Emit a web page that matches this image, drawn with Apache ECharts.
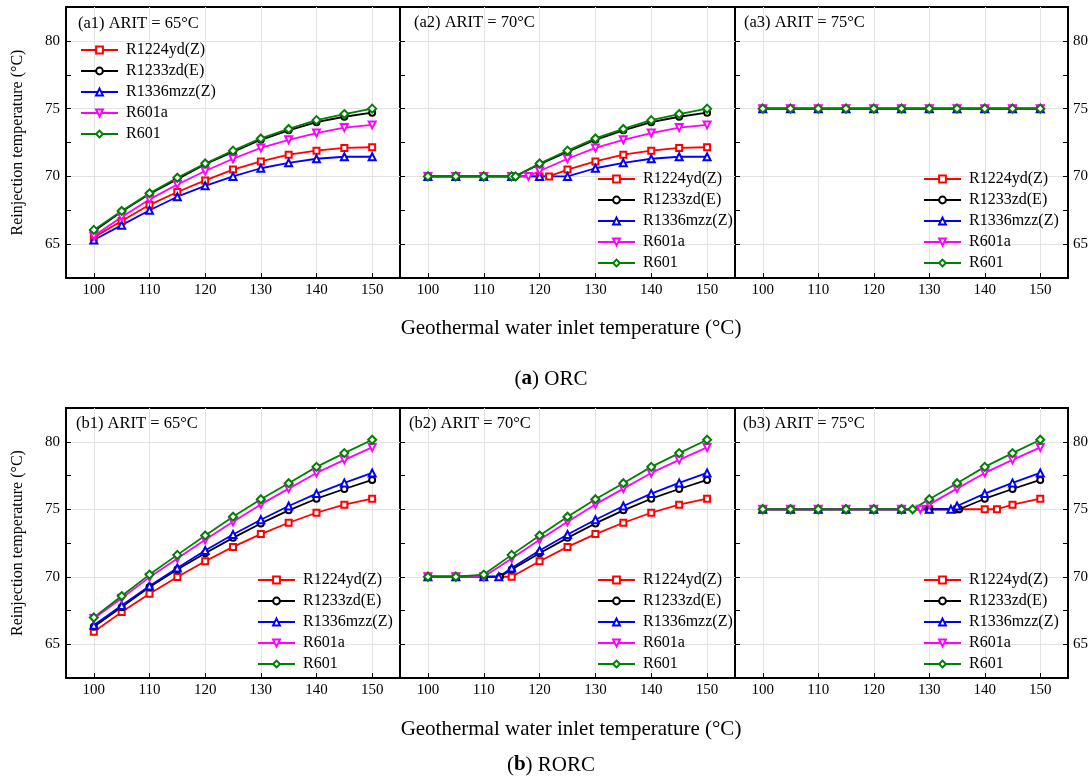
<!DOCTYPE html>
<html>
<head>
<meta charset="utf-8">
<script src="https://cdn.jsdelivr.net/npm/echarts@6/dist/echarts.min.js"></script>
<style>
  html, body { margin: 0; padding: 0; background: #fff; }
  #main { width: 1092px; height: 778px; }
</style>
</head>
<body>
<div id="main"></div>
<script>
// geothermal water inlet temperature (°C)
const inletTemp = [100, 105, 110, 115, 120, 125, 130, 135, 140, 145, 150];
const fluids = ['R1224yd(Z)', 'R1233zd(E)', 'R1336mzz(Z)', 'R601a', 'R601'];

// reinjection temperature, one row per fluid (same order as fluids)
const orc65 = [
  [65.5, 66.7, 67.9, 68.85, 69.7, 70.5, 71.1, 71.6, 71.9, 72.1, 72.15],
  [65.95, 67.4, 68.7, 69.8, 70.9, 71.8, 72.7, 73.4, 74.0, 74.4, 74.7],
  [65.3, 66.4, 67.5, 68.5, 69.3, 70.0, 70.6, 71.0, 71.3, 71.45, 71.45],
  [65.6, 67.0, 68.3, 69.4, 70.4, 71.3, 72.1, 72.7, 73.2, 73.6, 73.8],
  [66.05, 67.45, 68.75, 69.9, 70.95, 71.9, 72.8, 73.5, 74.15, 74.6, 75.0]
];
const orc70 = [
  [70, 70, 70, 70, 70, 70.5, 71.1, 71.6, 71.9, 72.1, 72.15],
  [70, 70, 70, 70, 70.9, 71.8, 72.7, 73.4, 74.0, 74.4, 74.7],
  [70, 70, 70, 70, 70, 70, 70.6, 71.0, 71.3, 71.45, 71.45],
  [70, 70, 70, 70, 70.4, 71.3, 72.1, 72.7, 73.2, 73.6, 73.8],
  [70, 70, 70, 70, 70.95, 71.9, 72.8, 73.5, 74.15, 74.6, 75.0]
];
const orc70Breaks = [[121.7, 70], [115.6, 70], null, [118, 70], [115.7, 70]];
const orc75 = [
  [75, 75, 75, 75, 75, 75, 75, 75, 75, 75, 75],
  [75, 75, 75, 75, 75, 75, 75, 75, 75, 75, 75],
  [75, 75, 75, 75, 75, 75, 75, 75, 75, 75, 75],
  [75, 75, 75, 75, 75, 75, 75, 75, 75, 75, 75],
  [75, 75, 75, 75, 75, 75, 75, 75, 75, 75, 75]
];
const rorc65 = [
  [65.92, 67.38, 68.74, 69.98, 71.15, 72.21, 73.16, 74.0, 74.74, 75.34, 75.78],
  [66.3, 67.75, 69.24, 70.53, 71.74, 72.88, 73.95, 74.92, 75.78, 76.5, 77.17],
  [66.4, 67.87, 69.31, 70.65, 71.94, 73.13, 74.22, 75.24, 76.16, 76.95, 77.69],
  [66.9, 68.4, 69.97, 71.35, 72.74, 74.07, 75.36, 76.53, 77.69, 78.66, 79.58],
  [66.98, 68.57, 70.16, 71.62, 73.06, 74.45, 75.74, 76.93, 78.14, 79.16, 80.15]
];
const rorc70 = [
  [70, 70, 70, 70, 71.15, 72.21, 73.16, 74.0, 74.74, 75.34, 75.78],
  [70, 70, 70, 70.53, 71.74, 72.88, 73.95, 74.92, 75.78, 76.5, 77.17],
  [70, 70, 70, 70.65, 71.94, 73.13, 74.22, 75.24, 76.16, 76.95, 77.69],
  [70, 70, 70, 71.35, 72.74, 74.07, 75.36, 76.53, 77.69, 78.66, 79.58],
  [70, 70, 70.16, 71.62, 73.06, 74.45, 75.74, 76.93, 78.14, 79.16, 80.15]
];
const rorc70Breaks = [null, [112.9, 70], [112.7, 70], null, null];
const rorc75 = [
  [75, 75, 75, 75, 75, 75, 75, 75, 75, 75.34, 75.78],
  [75, 75, 75, 75, 75, 75, 75, 75, 75.78, 76.5, 77.17],
  [75, 75, 75, 75, 75, 75, 75, 75.24, 76.16, 76.95, 77.69],
  [75, 75, 75, 75, 75, 75, 75.36, 76.53, 77.69, 78.66, 79.58],
  [75, 75, 75, 75, 75, 75, 75.74, 76.93, 78.14, 79.16, 80.15]
];
const rorc75Breaks = [[142.2, 75], [135.4, 75], [133.9, 75], [128.4, 75], [127, 75]];

const panelValues = [orc65, orc70, orc75, rorc65, rorc70, rorc75];
const panelBreaks = [null, orc70Breaks, null, null, rorc70Breaks, rorc75Breaks];
const panelLabels = ['(a1) ARIT = 65°C', '(a2) ARIT = 70°C', '(a3) ARIT = 75°C',
                     '(b1) ARIT = 65°C', '(b2) ARIT = 70°C', '(b3) ARIT = 75°C'];

const FONT = '"Liberation Serif", "Times New Roman", serif';
const colors = ['#ff0000', '#000000', '#0000ff', '#ff00ff', '#008000'];
const symbols = ['emptyRect', 'emptyCircle', 'emptyTriangle', 'emptyTriangle', 'emptyDiamond'];
const symbolRot = [0, 0, 0, 180, 0];
const symbolSizes = [6, 6, 7, 7, 8];

const gridLefts = [66, 400, 735];
const gridWidths = [334, 335, 333];
const rowTops = [7, 408];
const rowHeights = [271, 270];
const labelPos = [[78, 24], [414, 23], [744, 23], [76, 424], [409, 424], [743, 424]];
const legendPos = [[80, 42], [597, 171], [923, 171], [257, 572], [597, 572], [923, 572]];

function buildData(ys, brk) {
  const pts = inletTemp.map((x, i) => [x, ys[i]]);
  if (brk) {
    pts.push(brk);
    pts.sort((a, b) => a[0] - b[0]);
  }
  return pts;
}

const chart = echarts.init(document.getElementById('main'));

const grid = [], xAxis = [], yAxis = [], series = [], legend = [], graphic = [];

for (let p = 0; p < 6; p++) {
  const row = Math.floor(p / 3), col = p % 3;
  grid.push({
    left: gridLefts[col], top: rowTops[row], width: gridWidths[col], height: rowHeights[row],
    show: true, borderColor: '#000', borderWidth: 2, backgroundColor: 'transparent'
  });
  xAxis.push({
    type: 'value', gridIndex: p, min: 95, max: 155, splitNumber: 6,
    axisLine: { show: false },
    axisTick: { show: true, inside: true, length: 5, lineStyle: { color: '#000' } },
    axisLabel: { showMinLabel: false, showMaxLabel: false, fontFamily: FONT, fontSize: 15, color: '#000', margin: 5 },
    splitLine: { show: true, showMinLine: false, showMaxLine: false, lineStyle: { color: '#e3e3e3', width: 1 } }
  });
  const leftIdx = yAxis.length;
  yAxis.push({
    type: 'value', gridIndex: p, position: 'left', min: 62.5, max: 82.5, interval: 2.5,
    axisLine: { show: false },
    axisTick: { show: true, inside: true, length: 5, lineStyle: { color: '#000' } },
    axisLabel: {
      show: col === 0, fontFamily: FONT, fontSize: 15, color: '#000', margin: 6,
      formatter: v => (v % 5 === 0 && v > 62.5 && v < 82.5) ? String(v) : ''
    },
    splitLine: { show: false }
  });
  yAxis.push({
    type: 'value', gridIndex: p, position: 'right', min: 62.5, max: 82.5, splitNumber: 4,
    axisLine: { show: false }, axisTick: { show: false }, axisLabel: { show: false },
    splitLine: { show: true, showMinLine: false, showMaxLine: false, lineStyle: { color: '#e3e3e3', width: 1 } }
  });
  if (col === 2) {
    yAxis.push({
      type: 'value', gridIndex: p, position: 'right', min: 62.5, max: 82.5, interval: 2.5,
      axisLine: { show: false },
      axisTick: { show: true, inside: true, length: 5, lineStyle: { color: '#000' } },
      axisLabel: {
        fontFamily: FONT, fontSize: 15, color: '#000', margin: 5,
        formatter: v => (v % 5 === 0 && v > 62.5 && v < 82.5) ? String(v) : ''
      },
      splitLine: { show: false }
    });
  }
  fluids.forEach((name, s) => {
    const brk = panelBreaks[p] ? panelBreaks[p][s] : null;
    series.push({
      name: name, type: 'line', xAxisIndex: p, yAxisIndex: leftIdx,
      data: buildData(panelValues[p][s], brk),
      symbol: symbols[s], symbolRotate: symbolRot[s], symbolSize: symbolSizes[s],
      showAllSymbol: true, animation: false,
      lineStyle: { color: colors[s], width: 1.8 },
      itemStyle: { color: colors[s], borderWidth: 1.3 }
    });
  });
  legend.push({
    data: fluids, orient: 'vertical', left: legendPos[p][0], top: legendPos[p][1],
    padding: 0, itemWidth: 37, itemHeight: 8.5, itemGap: 5, selectedMode: false,
    lineStyle: { width: 2 },
    textStyle: { fontFamily: FONT, fontSize: 16, color: '#000', padding: [0, 0, 0, 3] }
  });
  graphic.push({
    type: 'text', x: labelPos[p][0], y: labelPos[p][1], z: 10,
    style: { text: panelLabels[p], font: '16.5px ' + FONT, fill: '#000', verticalAlign: 'middle' }
  });
}

const rowMid = [7 + 271 / 2, 408 + 270 / 2];
const xTitleY = [328, 729];
const captionY = [379, 765];
const captions = ['({b|a}) ORC', '({b|b}) RORC'];
for (let r = 0; r < 2; r++) {
  graphic.push({
    type: 'text', x: 18, y: rowMid[r], rotation: Math.PI / 2, z: 10,
    style: { text: 'Reinjection temperature (°C)', font: '16px ' + FONT, fill: '#000', align: 'center', verticalAlign: 'middle' }
  });
  graphic.push({
    type: 'text', x: 571, y: xTitleY[r], z: 10,
    style: { text: 'Geothermal water inlet temperature (°C)', font: '21px ' + FONT, fill: '#000', align: 'center', verticalAlign: 'middle' }
  });
  graphic.push({
    type: 'text', x: 551, y: captionY[r], z: 10,
    style: {
      text: captions[r], font: '21px ' + FONT, fill: '#000', align: 'center', verticalAlign: 'middle',
      rich: { b: { fontWeight: 'bold', fontSize: 21, fontFamily: FONT, fill: '#000' } }
    }
  });
}

chart.setOption({
  animation: false,
  backgroundColor: '#fff',
  grid, xAxis, yAxis, series, legend, graphic
});
</script>
</body>
</html>
